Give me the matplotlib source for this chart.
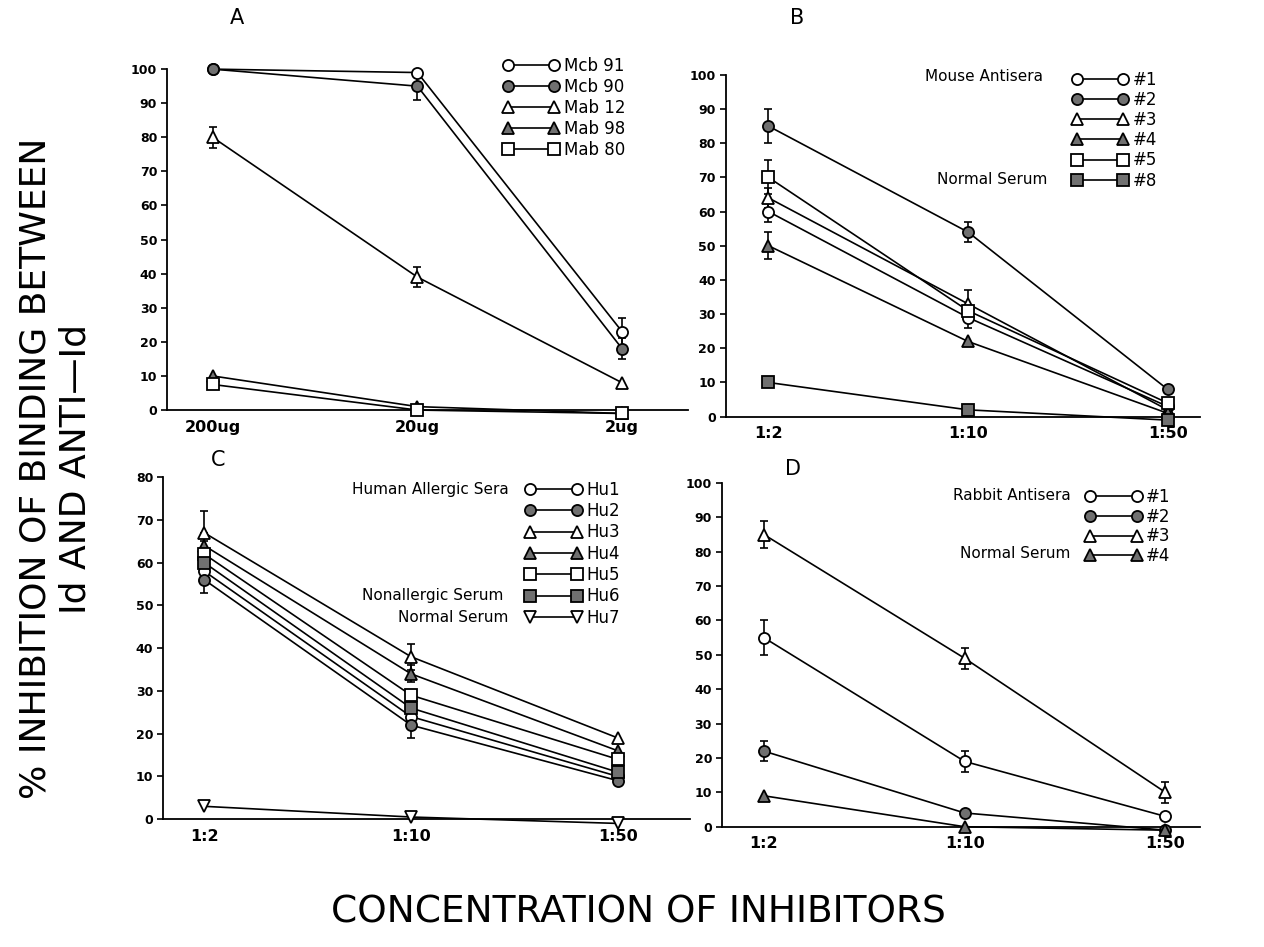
import numpy as np
import matplotlib.pyplot as plt

plt.rcParams['font.family'] = 'DejaVu Sans'

GREY = '#707070'

# A: monoclonal antibodies
a_ticks = ['200ug', '20ug', '2ug']
a_names = ['Mcb 91', 'Mcb 90', 'Mab 12', 'Mab 98', 'Mab 80']
a_vals = [[100, 99, 23], [100, 95, 18], [80, 39, 8], [10, 1, -1], [7.5, 0, -1]]
a_err = [[0, 0, 4], [0, 4, 3], [3, 3, 0], [0, 0, 0], [0, 0, 0]]
a_mark = ['o', 'o', '^', '^', 's']
a_fill = [0, 1, 0, 1, 0]

# B: mouse antisera
b_ticks = ['1:2', '1:10', '1:50']
b_names = ['#1', '#2', '#3', '#4', '#5', '#8']
b_vals = [[60, 29, 3], [85, 54, 8], [64, 33, 2], [50, 22, 1], [70, 31, 4], [10, 2, -1]]
b_err = [[3, 3, 0], [5, 3, 0], [3, 4, 0], [4, 0, 0], [5, 0, 0], [0, 0, 0]]
b_mark = ['o', 'o', '^', '^', 's', 's']
b_fill = [0, 1, 0, 1, 0, 1]

# C: human sera
c_ticks = ['1:2', '1:10', '1:50']
c_names = ['Hu1', 'Hu2', 'Hu3', 'Hu4', 'Hu5', 'Hu6', 'Hu7']
c_vals = [[58, 24, 10], [56, 22, 9], [67, 38, 19], [64, 34, 16], [62, 29, 14],
          [60, 26, 11], [3, 0.5, -1]]
c_err = [[3, 3, 0], [3, 3, 0], [5, 3, 0], [3, 2, 0], [3, 0, 0], [3, 0, 0], [0, 0, 0]]
c_mark = ['o', 'o', '^', '^', 's', 's', 'v']
c_fill = [0, 1, 0, 1, 0, 1, 0]

# D: rabbit antisera
d_ticks = ['1:2', '1:10', '1:50']
d_names = ['#1', '#2', '#3', '#4']
d_vals = [[55, 19, 3], [22, 4, -1], [85, 49, 10], [9, 0, -1]]
d_err = [[5, 3, 0], [3, 0, 0], [4, 3, 3], [0, 0, 0]]
d_mark = ['o', 'o', '^', '^']
d_fill = [0, 1, 0, 1]


def panel(ax, ticks, names, vals, errs, marks, fills, ymax, xlim):
    x = np.arange(len(ticks))
    handles = []
    for v, e, m, f, n in zip(vals, errs, marks, fills, names):
        v = np.array(v, dtype=float)
        e = np.array(e, dtype=float)
        ok = e > 0
        if ok.any():
            ax.errorbar(x[ok], v[ok], yerr=e[ok], fmt='none', ecolor='k',
                        elinewidth=1.2, capsize=3, capthick=1.2, clip_on=False, zorder=2)
        h, = ax.plot(x, v, '-', color='k', lw=1.2, marker=m, ms=8,
                     mfc=GREY if f else 'white', mec='k', mew=1.3,
                     clip_on=False, zorder=3, label=n)
        handles.append(h)
    ax.set_ylim(0, ymax)
    ax.set_xlim(*xlim)
    ax.set_yticks(np.arange(0, ymax + 1, 10))
    ax.set_xticks(x)
    ax.set_xticklabels(ticks, fontsize=11.5, fontweight='bold')
    for t in ax.get_yticklabels():
        t.set_fontsize(9)
        t.set_fontweight('bold')
    ax.tick_params(axis='y', length=4, width=1.2, pad=3)
    ax.tick_params(axis='x', length=0, pad=7)
    for s in ['top', 'right']:
        ax.spines[s].set_visible(False)
    for s in ['left', 'bottom']:
        ax.spines[s].set_linewidth(1.3)
    return handles


def legend(ax, handles, x, y, spacing):
    ax.legend(handles=handles, loc='upper left', bbox_to_anchor=(x, y),
              numpoints=2, handlelength=3.4, handletextpad=0.25,
              labelspacing=spacing, borderpad=0, borderaxespad=0,
              frameon=False, fontsize=12)


fig = plt.figure(figsize=(12.64, 9.47), dpi=100)
axA = fig.add_axes([0.132, 0.567, 0.412, 0.360])
axB = fig.add_axes([0.574, 0.560, 0.375, 0.361])
axC = fig.add_axes([0.129, 0.135, 0.417, 0.361])
axD = fig.add_axes([0.571, 0.127, 0.378, 0.363])

hA = panel(axA, a_ticks, a_names, a_vals, a_err, a_mark, a_fill, 100, (-0.224, 2.32))
hB = panel(axB, b_ticks, b_names, b_vals, b_err, b_mark, b_fill, 100, (-0.215, 2.16))
hC = panel(axC, c_ticks, c_names, c_vals, c_err, c_mark, c_fill, 80, (-0.2, 2.35))
hD = panel(axD, d_ticks, d_names, d_vals, d_err, d_mark, d_fill, 100, (-0.21, 2.17))

legend(axA, hA, 0.645, 1.035, 0.17)
legend(axB, hB, 0.73, 1.012, 0.13)
legend(axC, hC, 0.687, 0.99, 0.2)
legend(axD, hD, 0.76, 0.985, 0.1)

# group labels
axB.text(0.67, 0.995, 'Mouse Antisera', transform=axB.transAxes, ha='right', va='center', fontsize=11)
axB.text(0.68, 0.695, 'Normal Serum', transform=axB.transAxes, ha='right', va='center', fontsize=11)
axC.text(0.655, 0.965, 'Human Allergic Sera', transform=axC.transAxes, ha='right', va='center', fontsize=11)
axC.text(0.645, 0.655, 'Nonallergic Serum', transform=axC.transAxes, ha='right', va='center', fontsize=11)
axC.text(0.655, 0.59, 'Normal Serum', transform=axC.transAxes, ha='right', va='center', fontsize=11)
axD.text(0.73, 0.965, 'Rabbit Antisera', transform=axD.transAxes, ha='right', va='center', fontsize=11)
axD.text(0.73, 0.795, 'Normal Serum', transform=axD.transAxes, ha='right', va='center', fontsize=11)

# panel letters
axA.text(0.134, 1.15, 'A', transform=axA.transAxes, ha='center', va='center', fontsize=15)
axB.text(0.152, 1.167, 'B', transform=axB.transAxes, ha='center', va='center', fontsize=15)
axC.text(0.104, 1.05, 'C', transform=axC.transAxes, ha='center', va='center', fontsize=15)
axD.text(0.149, 1.04, 'D', transform=axD.transAxes, ha='center', va='center', fontsize=15)

fig.text(0.044, 0.505, '% INHIBITION OF BINDING BETWEEN\nId AND ANTI\u2014Id', rotation=90,
         ha='center', va='center', multialignment='center', fontsize=26, linespacing=1.25)
fig.text(0.505, 0.036, 'CONCENTRATION OF INHIBITORS', ha='center', va='center', fontsize=27)

fig.savefig('out.png', dpi=100)
